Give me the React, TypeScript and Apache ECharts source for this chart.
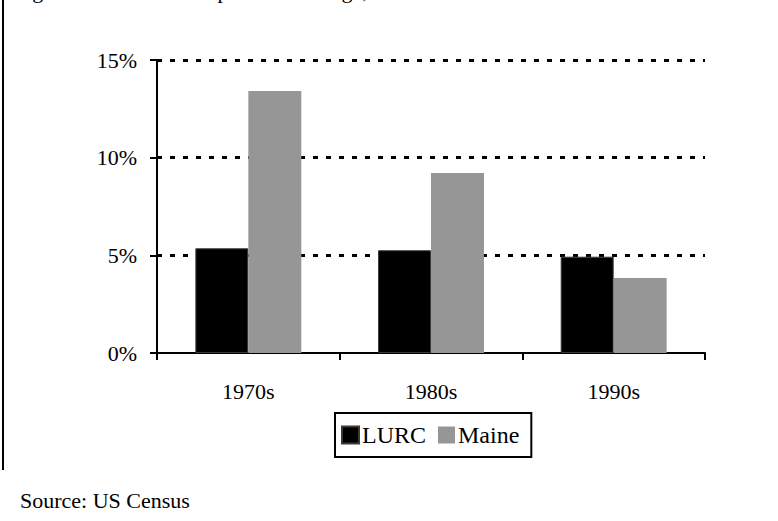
import React, { useEffect, useRef } from 'react';
import * as echarts from 'echarts';

const categories = ['1970s', '1980s', '1990s'];
const lurcValues = [5.36, 5.26, 4.93];
const maineValues = [13.41, 9.21, 3.84];
const seriesNames = ['LURC', 'Maine'];
const yMin = 0;
const yMax = 15;
const yInterval = 5;
const titleText = 'Figure 1: Decennial Population Change, 1970-2000';
const sourceText = 'Source: US Census';

export default function App() {
  const ref = useRef<HTMLDivElement>(null);
  useEffect(() => {
    const chart = echarts.init(ref.current!, null, { renderer: 'svg' });
    const font = 'Liberation Serif';
    chart.setOption({
      animation: false,
      backgroundColor: '#ffffff',
      textStyle: { fontFamily: font },
      grid: { left: 157, right: 73, top: 60, bottom: 168, containLabel: false },
      legend: {
        data: seriesNames,
        left: 335,
        top: 413,
        orient: 'horizontal',
        icon: 'rect',
        itemWidth: 17,
        itemHeight: 17,
        itemGap: 12,
        padding: [10, 12, 10, 6],
        borderColor: '#000',
        borderWidth: 2,
        textStyle: { fontFamily: font, fontSize: 24, color: '#000', padding: [0, 0, 0, -2] },
      },
      xAxis: {
        type: 'category',
        data: categories,
        axisLine: { lineStyle: { color: '#000', width: 2 } },
        axisTick: { show: true, length: 7, lineStyle: { color: '#000', width: 2 } },
        axisLabel: { fontFamily: font, fontSize: 22, color: '#000', margin: 27 },
        splitLine: { show: false },
      },
      yAxis: {
        type: 'value',
        min: yMin,
        max: yMax,
        interval: yInterval,
        axisLine: { show: true, lineStyle: { color: '#000', width: 2 } },
        axisTick: { show: true, length: 7, lineStyle: { color: '#000', width: 2 } },
        axisLabel: { fontFamily: font, fontSize: 22, color: '#000', margin: 20, formatter: '{value}%' },
        splitLine: {
          show: true,
          showMinLine: false,
          lineStyle: { color: '#000', width: 3, type: [5, 8] },
        },
      },
      series: [
        {
          name: seriesNames[0],
          type: 'bar',
          data: lurcValues,
          barGap: '0%',
          barCategoryGap: '42%',
          itemStyle: { color: '#000000', borderColor: '#3a3a3a', borderWidth: 1 },
        },
        {
          name: seriesNames[1],
          type: 'bar',
          data: maineValues,
          barGap: '0%',
          barCategoryGap: '42%',
          itemStyle: { color: '#969696' },
        },
      ],
      graphic: [
        {
          type: 'line',
          shape: { x1: 3, y1: 0, x2: 3, y2: 470 },
          style: { stroke: '#000', lineWidth: 2 },
        },
        {
          type: 'text',
          left: 14,
          top: -21,
          style: { text: titleText, font: `22px ${font}`, fill: '#000' },
        },
        {
          type: 'text',
          left: 20,
          top: 489,
          style: { text: sourceText, font: `22px ${font}`, fill: '#000' },
        },
      ],
    });
    return () => chart.dispose();
  }, []);
  return <div ref={ref} style={{ position: 'absolute', left: 0, top: 0, width: 778, height: 521 }} />;
}
